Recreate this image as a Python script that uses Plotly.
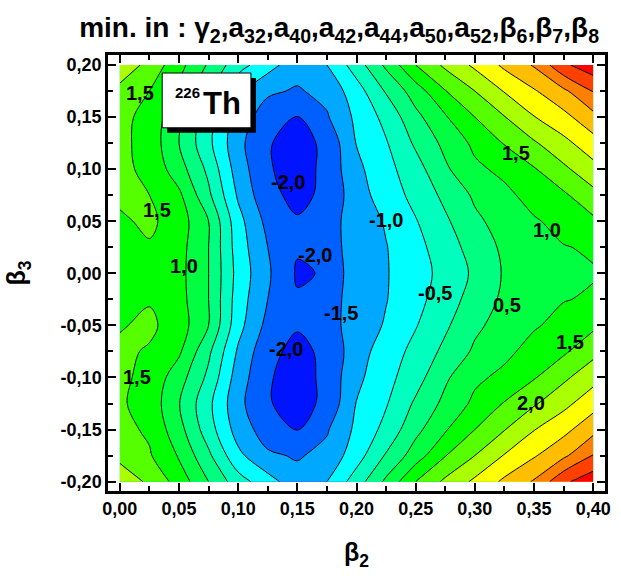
import plotly.graph_objects as go

# Potential energy surface of 226Th in the (beta2, beta3) plane
beta2 = [0.000, 0.025, 0.050, 0.075, 0.100, 0.125, 0.150, 0.175, 0.200,
         0.225, 0.250, 0.275, 0.300, 0.325, 0.350, 0.375, 0.400]
beta3 = [-0.200, -0.175, -0.150, -0.125, -0.100, -0.075, -0.050, -0.025, 0.000,
         0.025, 0.050, 0.075, 0.100, 0.125, 0.150, 0.175, 0.200]

# energy (MeV); one row per beta3 value, one column per beta2 value
energy = [
    [2.35, 1.90, 1.30, 0.50, -0.28, -0.80, -1.30, -1.00, -0.25, 0.60, 1.50, 2.10, 2.60, 3.10, 3.55, 4.40, 4.82],
    [1.85, 1.55, 0.95, 0.10, -0.88, -1.42, -1.55, -1.35, -0.72, 0.05, 0.75, 1.48, 2.00, 2.53, 2.95, 3.40, 4.02],
    [1.65, 1.42, 0.68, -0.27, -1.22, -1.75, -2.01, -1.55, -0.89, -0.35, 0.36, 0.95, 1.50, 1.98, 2.48, 2.85, 3.35],
    [1.56, 1.32, 0.52, -0.38, -1.36, -1.96, -2.20, -1.88, -0.98, -0.54, 0.08, 0.63, 1.11, 1.53, 1.94, 2.36, 2.80],
    [1.60, 1.36, 0.72, -0.12, -1.25, -1.94, -2.25, -1.85, -1.12, -0.66, -0.20, 0.42, 0.90, 1.12, 1.46, 1.90, 2.33],
    [1.60, 1.45, 1.08, 0.10, -1.07, -1.88, -2.12, -1.90, -1.21, -0.77, -0.35, 0.12, 0.58, 0.88, 1.18, 1.42, 1.85],
    [1.46, 1.60, 1.25, 0.50, -0.83, -1.65, -1.96, -1.68, -1.30, -0.95, -0.53, -0.08, 0.40, 0.70, 0.95, 1.15, 1.40],
    [1.35, 1.46, 1.18, 0.50, -0.75, -1.50, -1.95, -1.75, -1.25, -1.02, -0.66, -0.23, 0.20, 0.60, 0.83, 0.98, 1.05],
    [1.30, 1.38, 1.15, 0.50, -0.68, -1.43, -2.06, -1.96, -1.15, -1.03, -0.72, -0.33, 0.09, 0.55, 0.78, 0.90, 0.97],
    [1.35, 1.45, 1.18, 0.50, -0.75, -1.50, -1.95, -1.75, -1.25, -1.02, -0.66, -0.23, 0.20, 0.60, 0.83, 0.98, 1.05],
    [1.42, 1.60, 1.25, 0.50, -0.83, -1.65, -1.96, -1.68, -1.30, -0.95, -0.53, -0.08, 0.40, 0.70, 0.95, 1.15, 1.40],
    [1.60, 1.50, 1.10, 0.10, -1.07, -1.88, -2.12, -1.90, -1.21, -0.77, -0.35, 0.12, 0.58, 0.88, 1.18, 1.42, 1.85],
    [1.62, 1.38, 0.72, -0.12, -1.25, -1.94, -2.25, -1.85, -1.12, -0.66, -0.20, 0.42, 0.90, 1.12, 1.46, 1.90, 2.33],
    [1.62, 1.32, 0.50, -0.38, -1.36, -1.96, -2.20, -1.88, -0.98, -0.54, 0.08, 0.63, 1.11, 1.53, 1.94, 2.36, 2.80],
    [1.65, 1.33, 0.625, -0.29, -1.23, -1.75, -2.01, -1.55, -0.89, -0.35, 0.36, 0.95, 1.50, 1.98, 2.48, 2.85, 3.35],
    [1.85, 1.50, 0.875, 0.06, -0.90, -1.42, -1.55, -1.35, -0.72, 0.05, 0.75, 1.48, 2.00, 2.53, 2.95, 3.40, 4.02],
    [2.35, 1.84, 1.17, 0.44, -0.30, -0.80, -1.30, -1.00, -0.25, 0.60, 1.50, 2.10, 2.60, 3.10, 3.55, 4.40, 4.82],
]

# contour levels
level_start, level_end, level_step = -2.0, 4.5, 0.5

# one fill colour per band, from below the first level to above the last one
band_colors = [
    "#0014FF", "#0060FF", "#00A8FF", "#00FFFF", "#00FFBF",
    "#00FF80", "#00FF40", "#00FF00", "#55FF00", "#AAFF00",
    "#FFFF00", "#FFBF00", "#FF8000", "#FF4000", "#FF0000",
]

# tick values
x_ticks = [0.00, 0.05, 0.10, 0.15, 0.20, 0.25, 0.30, 0.35, 0.40]
x_minor = [0.025, 0.075, 0.125, 0.175, 0.225, 0.275, 0.325, 0.375]
y_ticks = [-0.20, -0.15, -0.10, -0.05, 0.00, 0.05, 0.10, 0.15, 0.20]
y_minor = [-0.175, -0.125, -0.075, -0.025, 0.025, 0.075, 0.125, 0.175]

# level labels written on the contour lines: (level, beta2, beta3)
contour_labels = [
    (1.5, 0.0167, 0.1732), (1.5, 0.0317, 0.0611), (1.0, 0.0542, 0.0075),
    (1.5, 0.0142, -0.0994), (-2.0, 0.1425, 0.0879), (-2.0, 0.1650, 0.0180),
    (-2.0, 0.1400, -0.0730), (-1.5, 0.1867, -0.0385), (-1.0, 0.2250, 0.0515),
    (-0.5, 0.2667, -0.0193), (0.5, 0.3275, -0.0308), (1.5, 0.3350, 0.1157),
    (1.0, 0.3608, 0.0420), (1.5, 0.3808, -0.0663), (2.0, 0.3475, -0.1247),
]


def comma(v, digits):
    return f"{v:.{digits}f}".replace(".", ",")


FONT = "Liberation Sans, Arial, sans-serif"

n_bands = len(band_colors)
colorscale = [[i / (n_bands - 1), c] for i, c in enumerate(band_colors)]

fig = go.Figure()
fig.add_trace(go.Contour(
    x=beta2, y=beta3, z=energy,
    autocontour=False,
    contours=dict(start=level_start, end=level_end, size=level_step,
                  coloring="fill", showlabels=False),
    colorscale=colorscale,
    showscale=False,
    line=dict(color="black", width=1, smoothing=1.0),
    hoverinfo="skip",
))

for lev, bx, by in contour_labels:
    fig.add_annotation(x=bx, y=by, xref="x", yref="y", text="<b>" + comma(lev, 1) + "</b>",
                       showarrow=False, xanchor="center", yanchor="middle",
                       font=dict(family=FONT, size=20, color="black"))

# nucleus label box with drop shadow
fig.add_shape(type="rect", xref="x", yref="y", x0=0.0400, x1=0.1150,
              y0=0.1349, y1=0.1876, fillcolor="black", line=dict(width=0), layer="above")
fig.add_shape(type="rect", xref="x", yref="y", x0=0.0358, x1=0.1108,
              y0=0.1397, y1=0.1923, fillcolor="white",
              line=dict(color="black", width=1), layer="above")
fig.add_annotation(x=0.0575, y=0.1735, xref="x", yref="y", text="<b>226</b>", showarrow=False,
                   xanchor="center", yanchor="middle",
                   font=dict(family=FONT, size=15, color="black"))
fig.add_annotation(x=0.0862, y=0.1628, xref="x", yref="y", text="<b>Th</b>", showarrow=False,
                   xanchor="center", yanchor="middle",
                   font=dict(family=FONT, size=31, color="black"))

axis_common = dict(
    showline=True, linecolor="black", linewidth=2.5, mirror="ticks",
    ticks="inside", ticklen=8, tickwidth=2, tickcolor="black",
    showgrid=False, zeroline=False,
    tickfont=dict(family=FONT, size=18, color="black", weight="bold"),
)

fig.update_xaxes(
    range=[-0.01, 0.41], tickvals=x_ticks, ticktext=[comma(v, 2) for v in x_ticks],
    minor=dict(tickvals=x_minor, ticks="inside", ticklen=5, tickwidth=2, tickcolor="black"),
    title=dict(text="<b>β<sub>2</sub></b>", standoff=26,
               font=dict(family=FONT, size=25, color="black")),
    **axis_common,
)
fig.update_yaxes(
    range=[-0.209, 0.2096], tickvals=y_ticks, ticktext=[comma(v, 2) for v in y_ticks],
    minor=dict(tickvals=y_minor, ticks="inside", ticklen=5, tickwidth=2, tickcolor="black"),
    title=dict(text="<b>β<sub>3</sub></b>", standoff=28,
               font=dict(family=FONT, size=25, color="black")),
    **axis_common,
)

fig.update_layout(
    width=621, height=576,
    margin=dict(l=108, r=10, t=55, b=85),
    paper_bgcolor="white", plot_bgcolor="white",
    title=dict(
        text="<b>min. in : γ<sub>2</sub>,a<sub>32</sub>,a<sub>40</sub>,a<sub>42</sub>,"
             "a<sub>44</sub>,a<sub>50</sub>,a<sub>52</sub>,β<sub>6</sub>,β<sub>7</sub>,β<sub>8</sub></b>",
        x=0.465, xref="paper", xanchor="center",
        y=1 - 27 / 576, yref="container", yanchor="middle",
        font=dict(family=FONT, size=28, color="black"),
    ),
    showlegend=False,
)

fig.write_html("out.html")
